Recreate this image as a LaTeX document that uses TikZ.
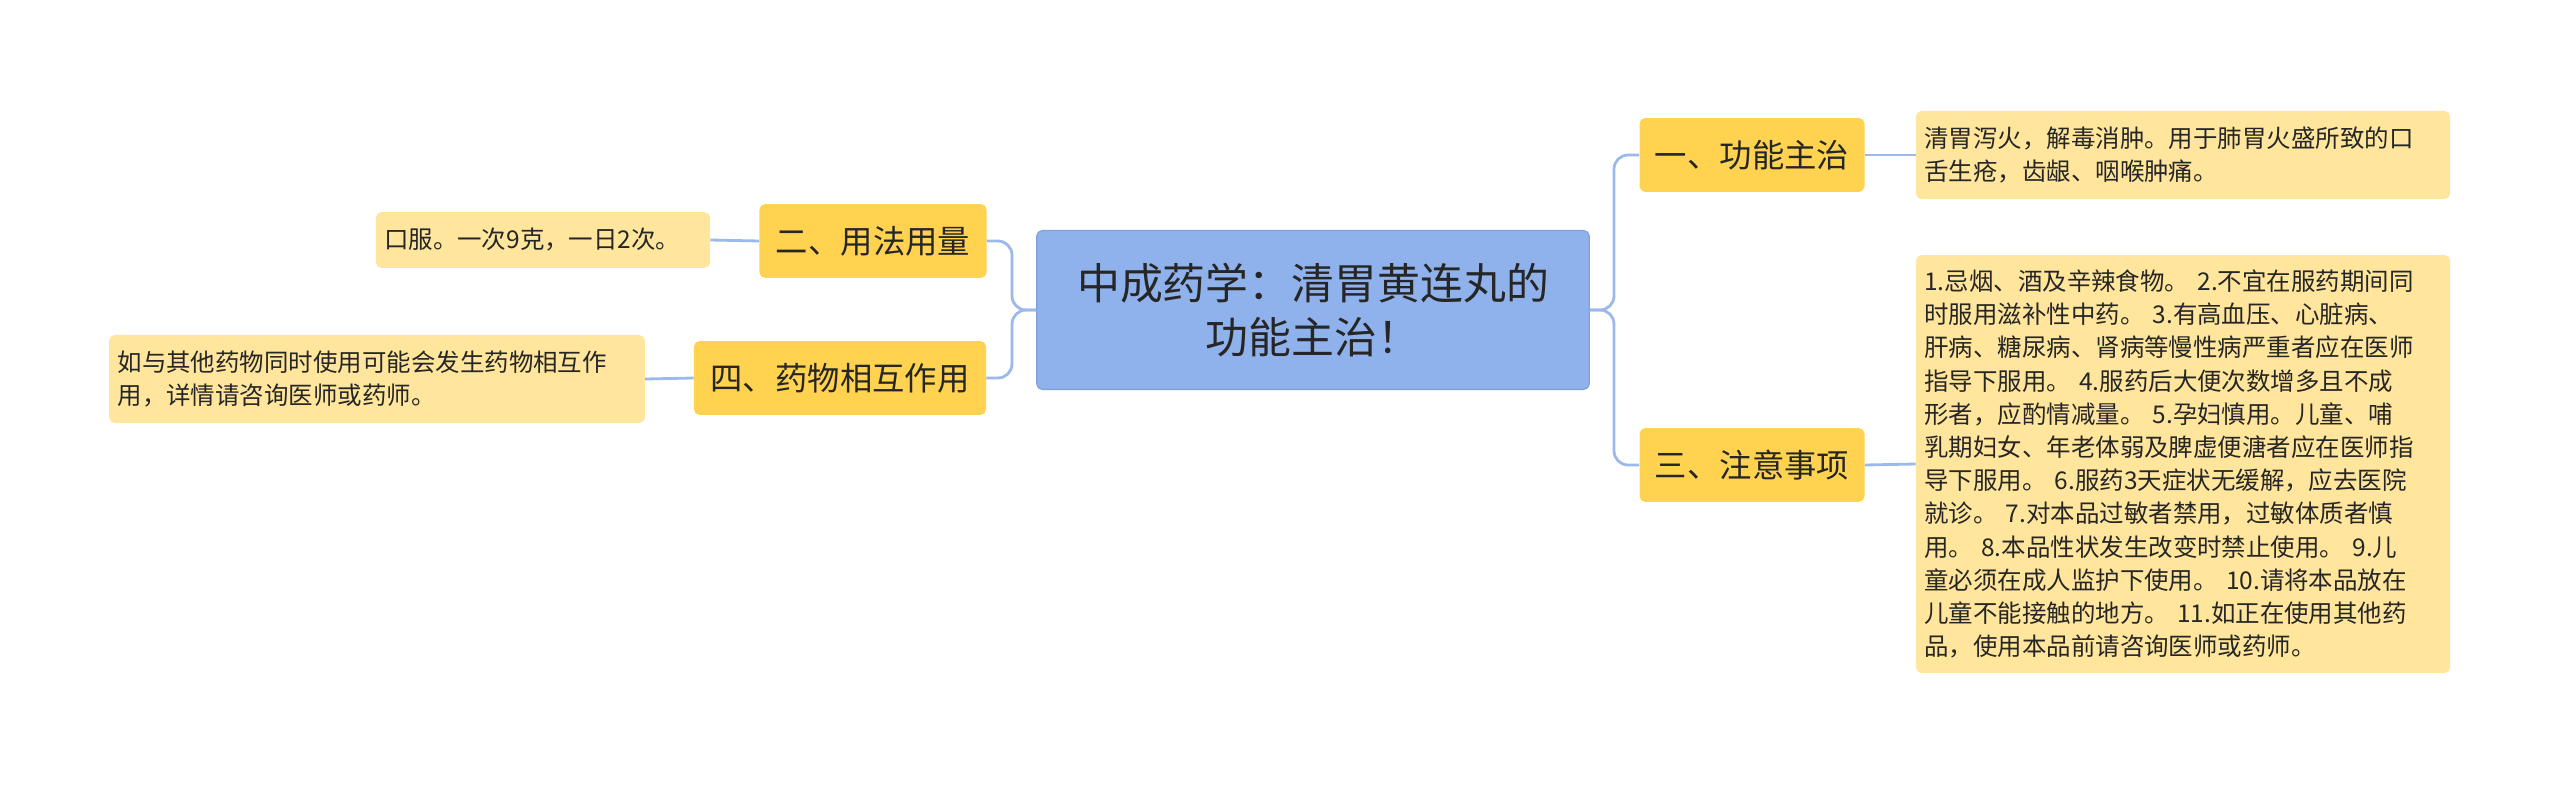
\documentclass[tikz,border=0pt]{standalone}
\usepackage{fontspec}
\setmainfont{Noto Sans CJK SC}
\begin{document}
\begin{tikzpicture}[x=0.025cm,y=-0.025cm,
  line/.style={draw=lineblue,line width=2pt,rounded corners=10pt},
  centerbox/.style={draw=centerborder,fill=centerfill,line width=0.8pt,rounded corners=4pt,minimum width=393pt,minimum height=113pt,align=center,font=\fontsize{30.5}{39}\selectfont,text=black!85},
  branch/.style={fill=branchfill,rounded corners=4pt,minimum height=52.6pt,inner xsep=0pt,font=\fontsize{23}{28}\selectfont,text=black!85},
  leaf/.style={fill=leaffill,rounded corners=4pt,align=left,font=\fontsize{17.4}{23.6}\selectfont,text=black!85,inner xsep=0pt}]
\definecolor{lineblue}{HTML}{9DB8EA}
\definecolor{centerfill}{HTML}{8FB2EC}
\definecolor{centerborder}{HTML}{7E9FDD}
\definecolor{branchfill}{HTML}{FFD24F}
\definecolor{leaffill}{HTML}{FFE69C}
\useasboundingbox (0,0) rectangle (2560,784);
\node[centerbox] (c) at (1313,310) {中成药学：清胃黄连丸的\\功能主治！};
\node[branch,minimum width=160pt] (b1) at (1752,155) {一、功能主治};
\node[branch,minimum width=160pt] (b3) at (1752,465) {三、注意事项};
\node[branch,minimum width=161.5pt] (b2) at (873,241) {二、用法用量};
\node[branch,minimum width=207.7pt] (b4) at (840,378) {四、药物相互作用};
\node[leaf,minimum width=380pt,minimum height=62.6pt,text width=368pt] (l1) at (2183,155) {清胃泻火，解毒消肿。用于肺胃火盛所致的口\\舌生疮，齿龈、咽喉肿痛。};
\node[leaf,minimum width=380pt,minimum height=297pt,text width=368pt] (l3) at (2183,464) {1.忌烟、酒及辛辣食物。 2.不宜在服药期间同\\时服用滋补性中药。 3.有高血压、心脏病、\\肝病、糖尿病、肾病等慢性病严重者应在医师\\指导下服用。 4.服药后大便次数增多且不成\\形者，应酌情减量。 5.孕妇慎用。儿童、哺\\乳期妇女、年老体弱及脾虚便溏者应在医师指\\导下服用。 6.服药3天症状无缓解，应去医院\\就诊。 7.对本品过敏者禁用，过敏体质者慎\\用。 8.本品性状发生改变时禁止使用。 9.儿\\童必须在成人监护下使用。 10.请将本品放在\\儿童不能接触的地方。 11.如正在使用其他药\\品，使用本品前请咨询医师或药师。};
\node[leaf,minimum width=237.6pt,minimum height=39.8pt,text width=226pt] (l2) at (543,240) {口服。一次9克，一日2次。};
\node[leaf,minimum width=381pt,minimum height=62.6pt,text width=369pt] (l4) at (377,379) {如与其他药物同时使用可能会发生药物相互作\\用，详情请咨询医师或药师。};
\draw[line] (c.east) -- (1614,310) |- (b1.west);
\draw[line] (c.east) -- (1614,310) |- (b3.west);
\draw[line] (c.west) -- (1012,310) |- (b2.east);
\draw[line] (c.west) -- (1012,310) |- (b4.east);
\draw[line] (b1.east) -- (l1.west);
\draw[line] (b3.east) -- (l3.west);
\draw[line] (b2.west) -- (l2.east);
\draw[line] (b4.west) -- (l4.east);
\end{tikzpicture}
\end{document}
